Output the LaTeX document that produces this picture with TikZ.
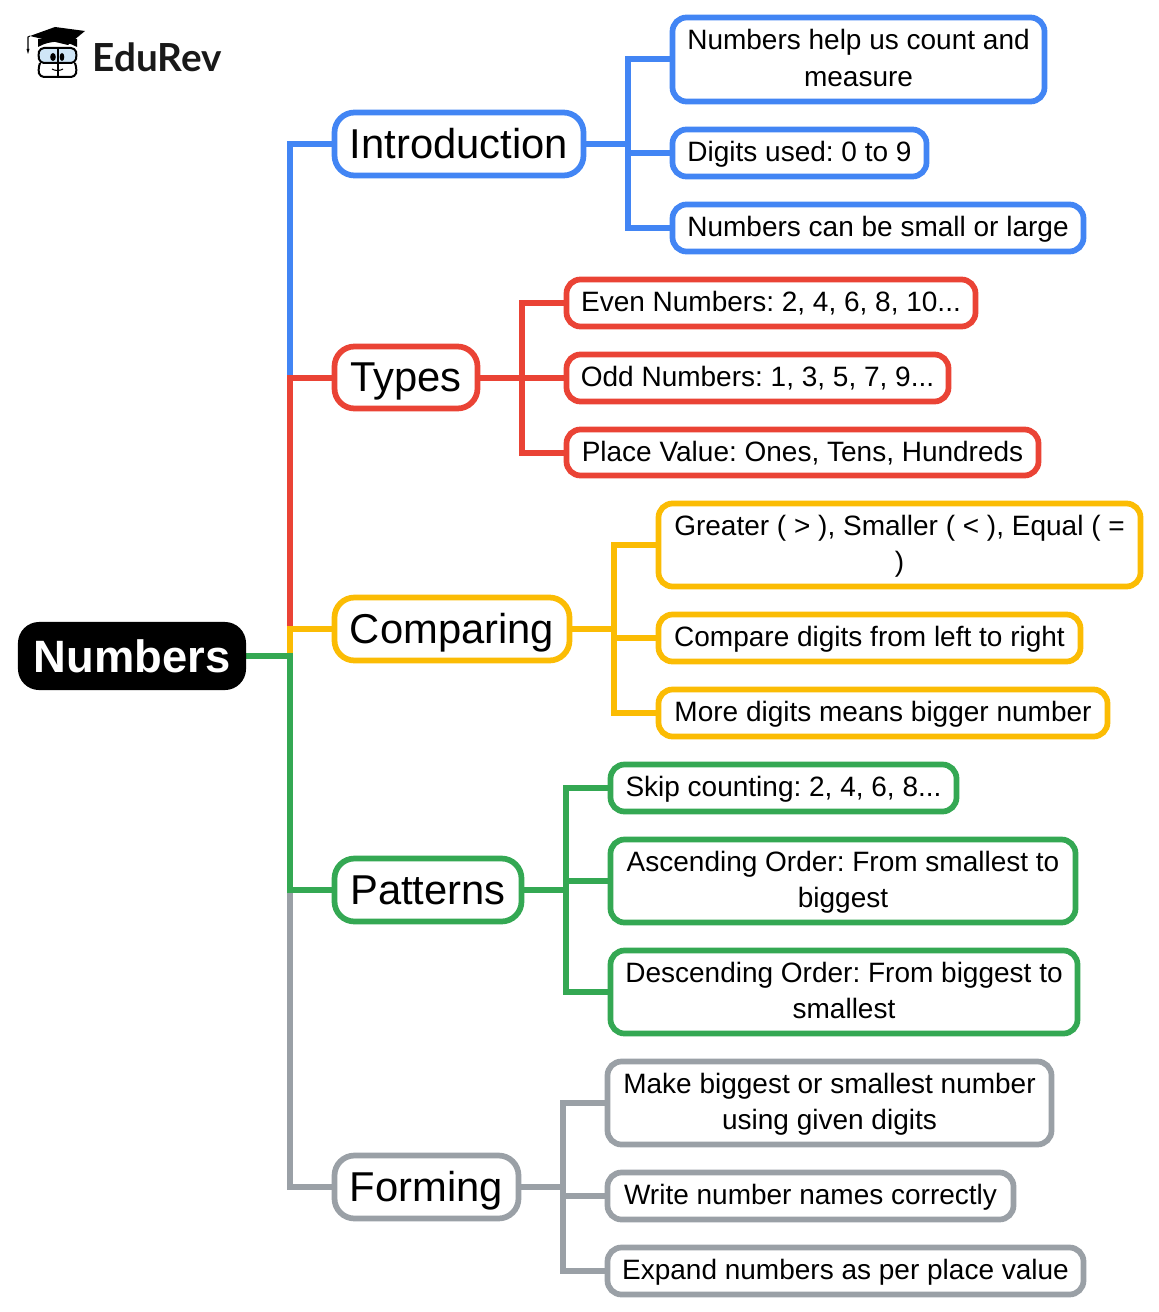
\documentclass[tikz,border=0pt]{standalone}
\usepackage{fontspec}
\setmainfont{Liberation Sans}
\newfontfamily\logofont{Lato}
\frenchspacing
\definecolor{cblue}{HTML}{4285F4}
\definecolor{cred}{HTML}{EA4335}
\definecolor{cyel}{HTML}{FBBC04}
\definecolor{cgrn}{HTML}{34A853}
\definecolor{cgry}{HTML}{9AA0A6}
\definecolor{lens}{HTML}{CFE6F7}
\tikzset{
  boxbase/.style={draw,line width=4.3pt,fill=white,inner sep=0pt,outer sep=0pt,align=center,text=black},
  leafone/.style={boxbase,font=\fontsize{21}{27.5}\selectfont,rounded corners=10.5pt,text height=17.5pt,text depth=4.4pt},
  leaftwo/.style={boxbase,font=\fontsize{21}{27.5}\selectfont,rounded corners=10.5pt,text height=43pt,text depth=3pt},
  midbox/.style={boxbase,rounded corners=15pt,font=\fontsize{31.3}{36}\selectfont,text height=22.8pt,text depth=1.5pt},
  rootbox/.style={draw=black,fill=black,rounded corners=14pt,line width=3.8pt,inner sep=0pt,outer sep=0pt,text=white,font=\fontsize{34}{40}\selectfont\bfseries},
  trunk/.style={line width=4.5pt,miter limit=10},
  logotext/.style={inner sep=0pt,outer sep=0pt,font=\logofont\bfseries\fontsize{29}{32}\selectfont,text=black!90},
  logoline/.style={draw=black,line width=1.5pt,line join=round}
}
% name, x1, y1, x2, y2 (outer edges, px), style, text
\newcommand{\pbox}[7]{%
  \pgfmathsetmacro{\bw}{(#4-#2-3)*0.75}%
  \pgfmathsetmacro{\bh}{(#5-#3-3)*0.75}%
  \node[#6,minimum width=\bw pt,minimum height=\bh pt] (#1) at ({(#2+#4)/2},{(#3+#5)/2}) {#7};}
\begin{document}
\begin{tikzpicture}[x=0.75pt,y=-0.75pt]
\useasboundingbox (0,0) rectangle (1158,1312);
\pgfdeclarelayer{back}\pgfsetlayers{back,main}
\pbox{root}{19}{623}{245}{689}{rootbox}{Numbers}
\pbox{intro}{333}{111}{585}{177}{midbox,draw=cblue}{Introduction}
\pbox{types}{333}{345}{479}{410}{midbox,draw=cred}{Types}
\pbox{comp}{333}{596}{571}{662}{midbox,draw=cyel}{Comparing}
\pbox{patt}{333}{857}{523}{923}{midbox,draw=cgrn}{Patterns}
\pbox{form}{333}{1154}{520}{1220}{midbox,draw=cgry}{Forming}
\pbox{a1}{671}{16}{1046}{103}{leaftwo,draw=cblue}{Numbers help us count and\\measure}
\pbox{a2}{671}{128}{928}{178}{leafone,draw=cblue}{Digits used: 0 to 9}
\pbox{a3}{671}{203}{1085}{253}{leafone,draw=cblue}{Numbers can be small or large}
\pbox{b1}{565}{278}{977}{328}{leafone,draw=cred}{Even Numbers: 2, 4, 6, 8, 10...}
\pbox{b2}{565}{353}{950}{403}{leafone,draw=cred}{Odd Numbers: 1, 3, 5, 7, 9...}
\pbox{b3}{565}{428}{1040}{477}{leafone,draw=cred}{Place Value: Ones, Tens, Hundreds}
\pbox{c1}{657}{502}{1142}{588}{leaftwo,draw=cyel}{Greater ( > ), Smaller ( < ), Equal ( =\\)}
\pbox{c2}{657}{613}{1082}{663}{leafone,draw=cyel}{Compare digits from left to right}
\pbox{c3}{657}{688}{1109}{738}{leafone,draw=cyel}{More digits means bigger number}
\pbox{d1}{609}{763}{958}{813}{leafone,draw=cgrn}{Skip counting: 2, 4, 6, 8...}
\pbox{d2}{609}{838}{1077}{924}{leaftwo,draw=cgrn}{Ascending Order: From smallest to\\biggest}
\pbox{d3}{609}{949}{1079}{1035}{leaftwo,draw=cgrn}{Descending Order: From biggest to\\smallest}
\pbox{e1}{606}{1060}{1053}{1146}{leaftwo,draw=cgry}{Make biggest or smallest number\\using given digits}
\pbox{e2}{606}{1171}{1015}{1221}{leafone,draw=cgry}{Write number names correctly}
\pbox{e3}{606}{1246}{1085}{1296}{leafone,draw=cgry}{Expand numbers as per place value}
% --- junction coordinates on the level of their parent
\coordinate (tr) at (root.east -| 290,0);
\coordinate (ji) at (intro.east -| 628,0);
\coordinate (jt) at (types.east -| 522,0);
\coordinate (jc) at (comp.east -| 614,0);
\coordinate (jp) at (patt.east -| 566,0);
\coordinate (jf) at (form.east -| 563,0);
% --- connectors
\begin{pgfonlayer}{back}
\draw[trunk,cgry] (root.east) -- (tr) |- (form.west);
\draw[trunk,cblue] (root.east) -- (tr) |- (intro.west);
\draw[trunk,cred] (root.east) -- (tr) |- (types.west);
\draw[trunk,cyel] (root.east) -- (tr) |- (comp.west);
\draw[trunk,cgrn] (root.east) -- (tr) |- (patt.west);
\foreach \n in {a1,a2,a3}{\draw[trunk,cblue] (intro.east) -- (ji) |- (\n.west);}
\foreach \n in {b1,b2,b3}{\draw[trunk,cred] (types.east) -- (jt) |- (\n.west);}
\foreach \n in {c1,c2,c3}{\draw[trunk,cyel] (comp.east) -- (jc) |- (\n.west);}
\foreach \n in {d1,d2,d3}{\draw[trunk,cgrn] (patt.east) -- (jp) |- (\n.west);}
\foreach \n in {e1,e2,e3}{\draw[trunk,cgry] (form.east) -- (jf) |- (\n.west);}
\end{pgfonlayer}
% --- logo
\node[logotext,anchor=west] (logo) at (92.5,57) {EduRev};
\fill[lens,rounded corners=3pt] (39,49) rectangle (76,62);
\draw[logoline,rounded corners=3pt] (58,48) -- (40,48) -- (38,55) -- (40,63) -- (75,63) -- (77,55) -- (75,48) -- (58,48);
\draw[logoline,rounded corners=3pt] (40,63) -- (38,70) -- (40,77) -- (75,77) -- (77,70) -- (75,63);
\draw[logoline] (58,48) -- (58,77);
\fill[black] (38,47) -- (38,39) -- (77,39) -- (77,47) .. controls (65,40) and (50,40) .. (38,47);
\fill[black] (30,36) -- (55,27) -- (85,31) -- (68,45) -- cycle;
\draw[black,line width=0.8pt] (30,36) -- (28,37) -- (28,50);
\fill[black] (26.5,49) -- (29.5,49) -- (28,54) -- cycle;
\fill[black] (53,57) ellipse [x radius=2.8,y radius=4];
\fill[black] (62,57) ellipse [x radius=2.3,y radius=4];
\draw[black,line width=0.8pt] (52,69) .. controls (55,71) and (60,71) .. (63,69);
\end{tikzpicture}
\end{document}
